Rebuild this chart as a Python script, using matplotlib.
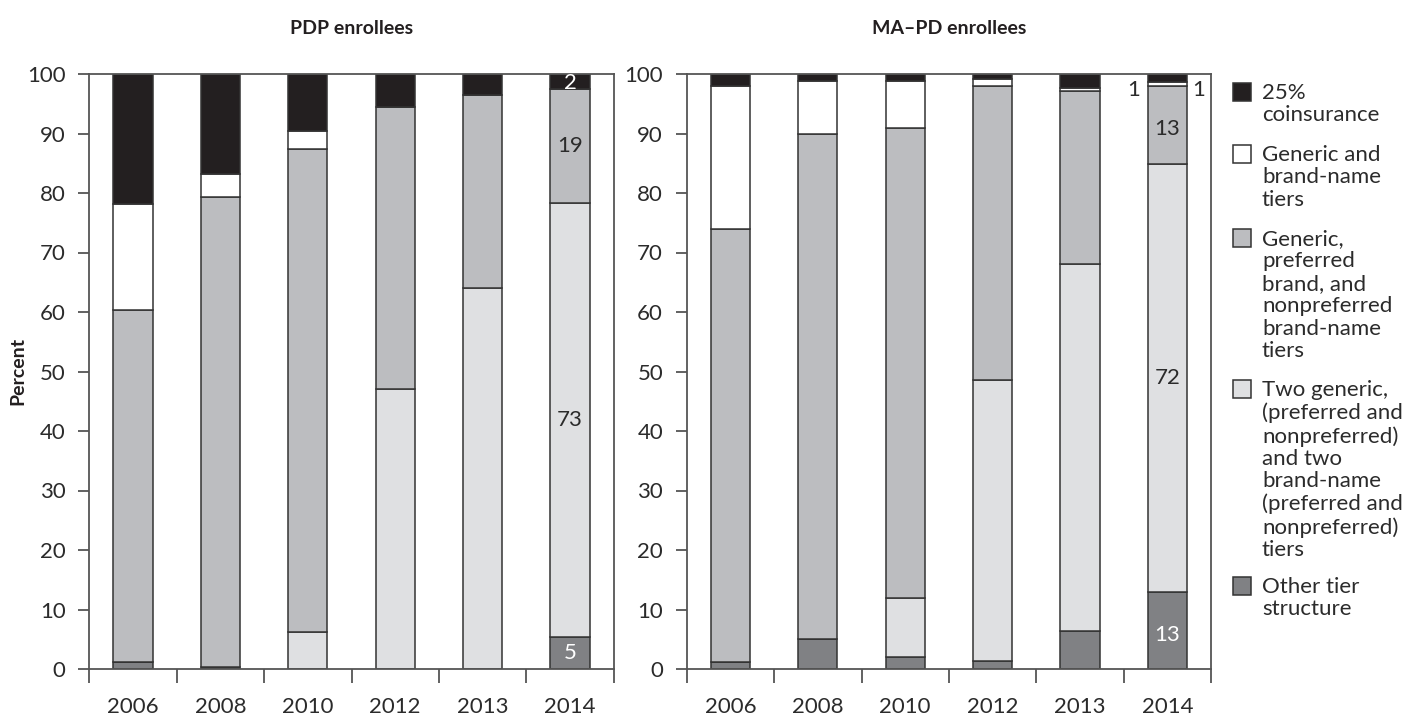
import numpy as np
import matplotlib.pyplot as plt
from matplotlib.patches import Rectangle

plt.rcParams['font.family'] = ['Lato', 'DejaVu Sans']

years = ['2006', '2008', '2010', '2012', '2013', '2014']

# PDP enrollees (percent)
pdp_other = [1.1, 0.3, 0.0, 0.0, 0.0, 5.3]
pdp_two_generic = [0.0, 0.0, 6.2, 47.0, 64.0, 73.1]
pdp_three_tier = [59.2, 79.0, 81.2, 47.4, 32.4, 19.1]
pdp_generic_brand = [17.9, 3.9, 3.1, 0.0, 0.0, 0.0]
pdp_coins = [21.8, 16.8, 9.5, 5.6, 3.6, 2.5]

# MA-PD enrollees (percent)
mapd_other = [1.1, 5.0, 2.0, 1.3, 6.4, 13.0]
mapd_two_generic = [0.0, 0.0, 10.0, 47.2, 61.7, 71.9]
mapd_three_tier = [72.9, 85.0, 79.0, 49.5, 29.0, 13.0]
mapd_generic_brand = [23.9, 8.9, 7.9, 1.1, 0.5, 0.8]
mapd_coins = [2.1, 1.1, 1.1, 0.9, 2.4, 1.3]

legend_labels = ['25%\ncoinsurance',
                 'Generic and\nbrand-name\ntiers',
                 'Generic,\npreferred\nbrand, and\nnonpreferred\nbrand-name\ntiers',
                 'Two generic,\n(preferred and\nnonpreferred)\nand two\nbrand-name\n(preferred and\nnonpreferred)\ntiers',
                 'Other tier\nstructure']

# stacking order bottom -> top
colors = ['#808184', '#dfe0e2', '#bcbdc0', '#ffffff', '#231f20']
legend_colors = ['#231f20', '#ffffff', '#bcbdc0', '#dfe0e2', '#808184']

edge = '#333333'
spine_c = '#555555'
txt_c = '#2b2b2b'
fs = 16

fig = plt.figure(figsize=(14.05, 7.19), dpi=100)
W, H = 1405, 719
ax1 = fig.add_axes([89.3 / W, 1 - 669 / H, 524.4 / W, 595 / H])
ax2 = fig.add_axes([686.7 / W, 1 - 669 / H, 524.4 / W, 595 / H])

x = np.arange(len(years))
bw = 0.45


def draw(ax, series, title):
    bottom = np.zeros(len(years))
    tops = []
    for vals, c in zip(series, colors):
        vals = np.array(vals)
        ax.bar(x, vals, bw, bottom=bottom, color=c, edgecolor=edge, linewidth=1.1)
        tops.append(bottom + vals)
        bottom = bottom + vals
    ax.set_xlim(-0.5, len(years) - 0.5)
    ax.set_ylim(0, 100)
    ax.set_yticks(range(0, 101, 10))
    ax.set_xticks(x)
    ax.set_xticklabels(years)
    ax.set_xticks(np.arange(-0.5, len(years), 1), minor=True)
    ax.tick_params(axis='x', which='major', length=0, pad=20, labelsize=fs, labelcolor=txt_c)
    ax.tick_params(axis='x', which='minor', length=10, width=1.3, color=spine_c, direction='out')
    ax.tick_params(axis='y', length=8, width=1.3, color=spine_c, direction='out', pad=9,
                   labelsize=fs, labelcolor=txt_c)
    for s in ax.spines.values():
        s.set_color(spine_c)
        s.set_linewidth(1.3)
    ax.set_title(title, fontsize=14, fontweight='bold', color='#231f20', pad=29)
    return tops


tops1 = draw(ax1, [pdp_other, pdp_two_generic, pdp_three_tier, pdp_generic_brand, pdp_coins],
             'PDP enrollees')
tops2 = draw(ax2, [mapd_other, mapd_two_generic, mapd_three_tier, mapd_generic_brand, mapd_coins],
             'MA\u2013PD enrollees')

# value labels for 2014
i = 5
lab_kw = dict(ha='center', va='center', fontsize=fs)
ax1.text(i, pdp_other[i] / 2, f'{pdp_other[i]:.0f}', color='white', **lab_kw)
ax1.text(i, tops1[1][i] - pdp_two_generic[i] / 2, f'{pdp_two_generic[i]:.0f}', color=txt_c, **lab_kw)
ax1.text(i, tops1[2][i] - pdp_three_tier[i] / 2, f'{pdp_three_tier[i]:.0f}', color=txt_c, **lab_kw)
ax1.text(i, tops1[4][i] - pdp_coins[i] / 2 - 0.3, f'{pdp_coins[i]:.0f}', color='white', **lab_kw)

ax2.text(i, mapd_other[i] / 2 - 0.8, f'{mapd_other[i]:.0f}', color='white', **lab_kw)
ax2.text(i, tops2[1][i] - mapd_two_generic[i] / 2, f'{mapd_two_generic[i]:.0f}', color=txt_c, **lab_kw)
ax2.text(i, tops2[2][i] - mapd_three_tier[i] / 2 - 0.6, f'{mapd_three_tier[i]:.0f}', color=txt_c, **lab_kw)
ax2.text(i - 0.39, tops2[3][i] - mapd_generic_brand[i] / 2 - 1.0,
         f'{np.ceil(mapd_generic_brand[i]):.0f}', color=txt_c, **lab_kw)
ax2.text(i + 0.36, tops2[3][i] - mapd_generic_brand[i] / 2 - 1.0,
         f'{mapd_coins[i]:.0f}', color=txt_c, **lab_kw)

fig.text(18 / W, 1 - 371 / H, 'Percent', rotation=90, ha='center', va='center',
         fontsize=14, fontweight='bold', color='#231f20')

# legend drawn by hand
line_h = 22.4
y = 92
for lab, c in zip(legend_labels, legend_colors):
    fig.patches.append(Rectangle((1233 / W, 1 - (y + 9) / H), 18 / W, 18 / H, transform=fig.transFigure,
                                 facecolor=c, edgecolor=edge, linewidth=1.1))
    fig.text(1262 / W, 1 - (y - 9) / H, lab, ha='left', va='top',
             fontsize=fs, color=txt_c, linespacing=1.15,
             transform=fig.transFigure)
    n = lab.count('\n') + 1
    y += n * line_h + 17

fig.savefig('out.png', dpi=100)
